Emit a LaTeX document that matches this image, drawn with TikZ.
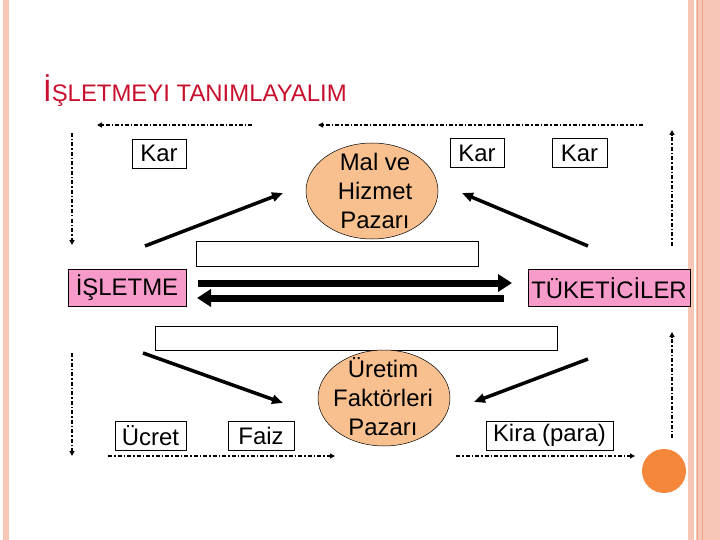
\documentclass[tikz,border=0pt]{standalone}
\usepackage{fontspec}
\setmainfont{Liberation Sans}
\usetikzlibrary{arrows.meta,shapes.geometric}
\definecolor{titlered}{HTML}{C8102E}
\definecolor{borderpink}{HTML}{F8C6B5}
\definecolor{borderline}{HTML}{EFA487}
\definecolor{ellfill}{HTML}{F9C08F}
\definecolor{pinkbox}{HTML}{F79BCB}
\definecolor{dotorange}{HTML}{F5873A}
\begin{document}
\begin{tikzpicture}[x=1bp,y=-1bp,
  lbl/.style={draw=black,line width=0.8bp,inner sep=0pt,minimum height=29bp,
    font=\fontsize{24}{29}\selectfont},
  pinklbl/.style={lbl,fill=pinkbox,minimum height=37bp},
  emptybox/.style={draw=black,line width=0.8bp,inner sep=0pt},
  market/.style={ellipse,draw=black,line width=0.5bp,fill=ellfill,inner sep=0pt,
    minimum width=132bp,minimum height=96bp},
  markettext/.style={align=center,inner sep=0pt,font=\fontsize{24}{29}\selectfont},
  dd/.style={line width=1.4bp,dash pattern=on 4bp off 2bp on 1.5bp off 2bp,
    -{Triangle[length=5bp,width=5bp]}},
  thick arrow/.style={line width=3.5bp,-{Triangle[length=11bp,width=9bp]}},
  big arrow/.style={line width=7bp,-{Triangle[length=14bp,width=17bp]}}
]
\useasboundingbox (0,0) rectangle (720,540);
\fill[white] (0,0) rectangle (720,540);
% borders
\fill[borderpink] (3,0) rectangle (9,540);
\fill[borderpink] (688,0) rectangle (694,540);
\fill[borderpink] (696,0) rectangle (720,540);
\draw[borderline,line width=1bp] (697.5,0) -- (697.5,540);
\draw[borderline,line width=1bp] (702.5,0) -- (702.5,540);

% title
\node[anchor=base west,inner sep=0pt,text=titlered] (title) at (43,102)
  {{\fontsize{31}{31}\selectfont İ}{\fontsize{24}{24}\selectfont ŞLETMEYI TANIMLAYALIM}};

% empty text boxes
\node[emptybox,minimum width=282bp,minimum height=25bp] (upbox) at (337,253.5) {};
\node[emptybox,minimum width=402bp,minimum height=24bp] (lowbox) at (356,338) {};

% markets
\node[market] (malE) at (372,191) {};
\node[markettext] (malT) at (375,191) {Mal ve\\Hizmet\\Pazarı};
\node[market] (uretE) at (384,398) {};
\node[markettext] (uretT) at (383,397) {Üretim\\Faktörleri\\Pazarı};

% labels
\node[lbl,minimum width=54bp] (kar1) at (159,153.5) {Kar};
\node[lbl,minimum width=54bp] (kar2) at (477,153) {Kar};
\node[lbl,minimum width=55bp] (kar3) at (579.5,153) {Kar};
\node[lbl,minimum width=71bp] (ucret) at (150.5,435.5) {Ücret};
\node[lbl,minimum width=66bp] (faiz) at (261,435.5) {Faiz};
\node[lbl,minimum width=127bp] (kira) at (549.5,435.5) {Kira (para)};
\node[pinklbl,minimum width=118bp] (isletme) at (127,288) {İŞLETME};
\node[pinklbl,minimum width=162bp] (tuketici) at (609,288) {TÜKETİCİLER};

% orange dot
\node[circle,fill=dotorange,minimum size=44bp,inner sep=0pt] (dot) at (664,471) {};

% coordinates for free arrow ends
\coordinate (a1s) at (145,246); \coordinate (a1e) at (283,193);
\coordinate (a2s) at (588,246); \coordinate (a2e) at (462,193);
\coordinate (a3s) at (143,353); \coordinate (a3e) at (283,403);
\coordinate (a4s) at (588,359); \coordinate (a4e) at (474,402);
\coordinate (m1s) at (198,283); \coordinate (m1e) at (512,283);
\coordinate (m2s) at (504,298); \coordinate (m2e) at (197,298);
\coordinate (d1s) at (252,125); \coordinate (d1e) at (97,125);
\coordinate (d2s) at (643,125); \coordinate (d2e) at (318,125);
\coordinate (d3s) at (72,133);  \coordinate (d3e) at (72,245);
\coordinate (d4s) at (672,246); \coordinate (d4e) at (672,130);
\coordinate (d5s) at (72,353);  \coordinate (d5e) at (72,456);
\coordinate (d6s) at (672,438); \coordinate (d6e) at (672,332);
\coordinate (d7s) at (108,456); \coordinate (d7e) at (335,456);
\coordinate (d8s) at (456,456); \coordinate (d8e) at (635,456);

% thick arrows
\draw[thick arrow] (a1s) -- (a1e);
\draw[thick arrow] (a2s) -- (a2e);
\draw[thick arrow] (a3s) -- (a3e);
\draw[thick arrow] (a4s) -- (a4e);
\draw[big arrow] (m1s) -- (m1e);
\draw[big arrow] (m2s) -- (m2e);

% dash-dot arrows
\foreach \i in {1,...,8} { \draw[dd] (d\i s) -- (d\i e); }
\end{tikzpicture}
\end{document}
